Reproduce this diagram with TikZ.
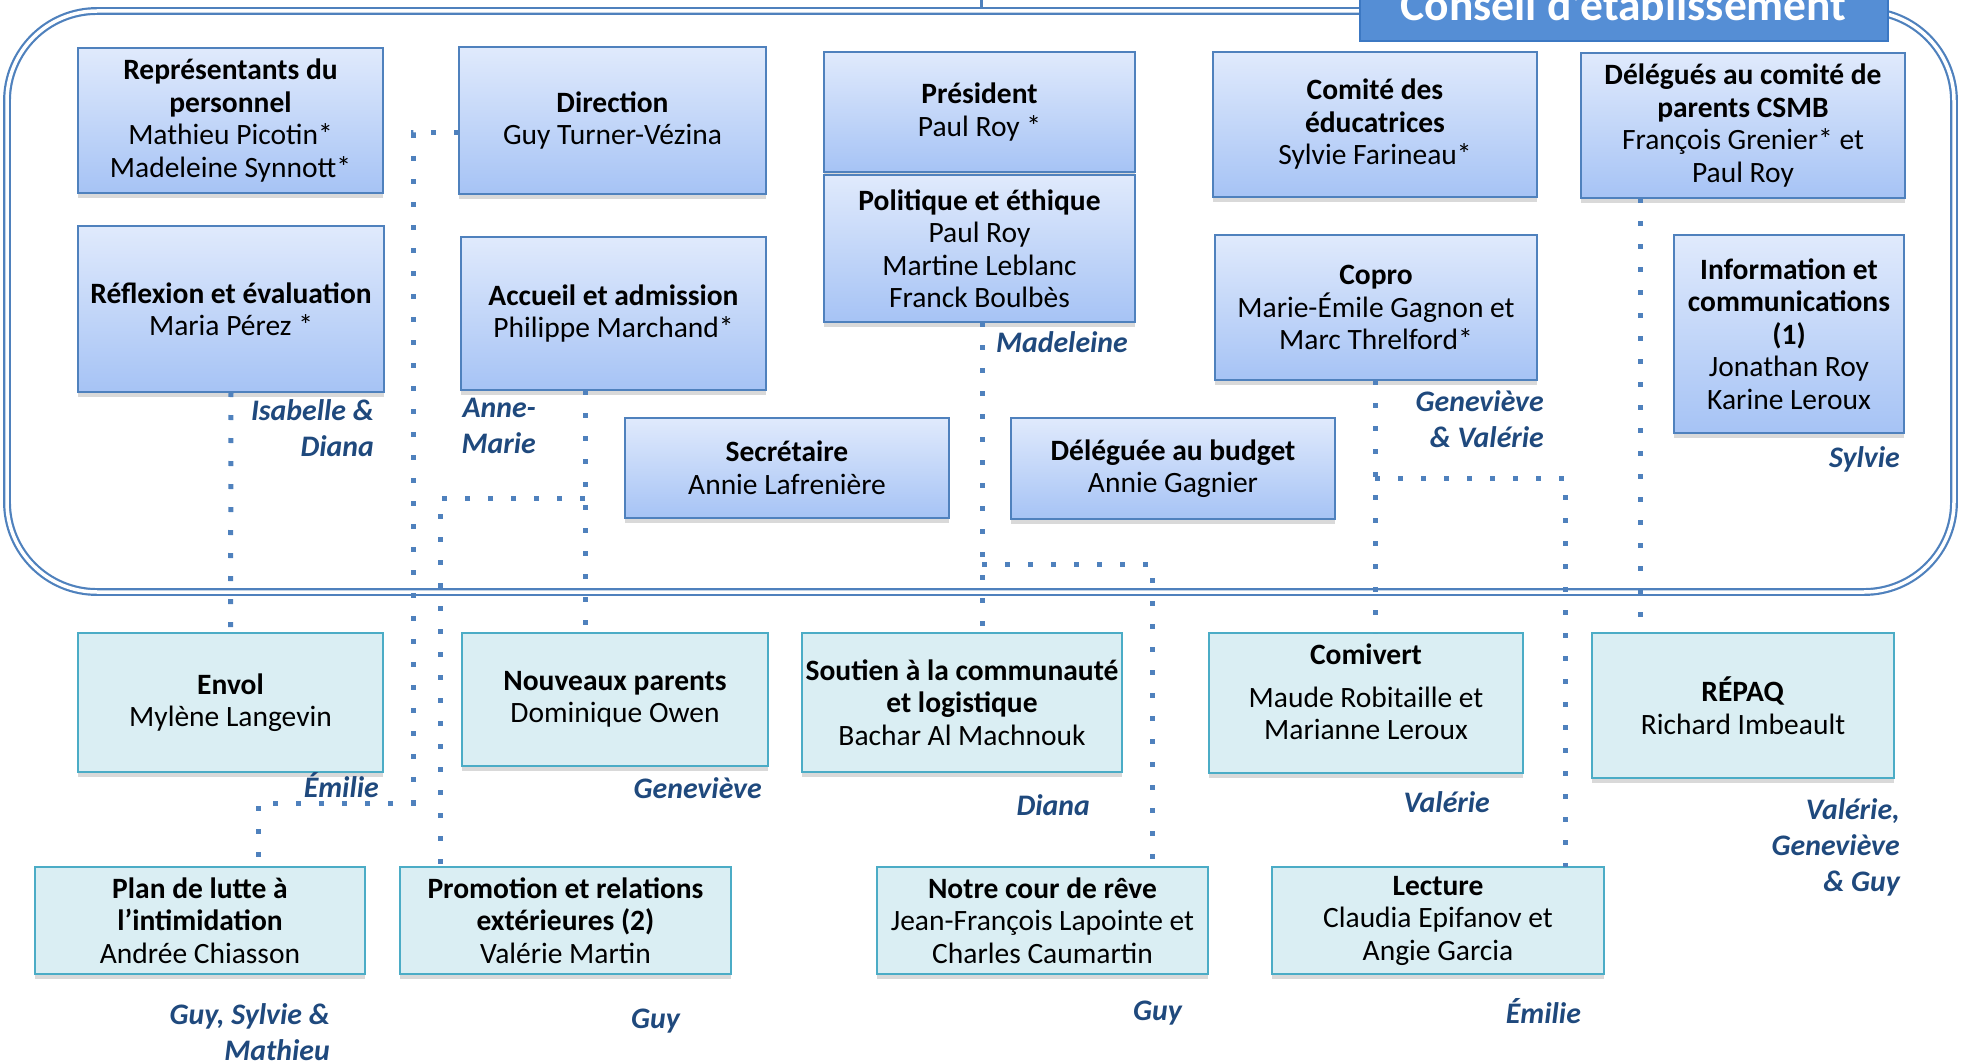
\documentclass[tikz,border=0pt]{standalone}
\usepackage{fontspec}
\setmainfont{Carlito}
\usetikzlibrary{shadows}
\definecolor{frameBlue}{HTML}{4F81BD}
\definecolor{boxTop}{HTML}{E0EAFC}
\definecolor{boxBottom}{HTML}{A6C3F5}
\definecolor{cyanFill}{HTML}{DAEEF3}
\definecolor{cyanBorder}{HTML}{4BACC6}
\definecolor{labelBlue}{HTML}{1F497D}
\definecolor{titleFill}{HTML}{558ED5}
\definecolor{titleBorder}{HTML}{3C78C3}
\newcommand{\cefont}{\fontsize{29.5}{32.5}\selectfont}
\newcommand{\rolefont}{\fontsize{29.8}{36}\selectfont\bfseries\itshape}
\begin{document}
\begin{tikzpicture}[x=1pt, y=-1pt,
  cebox/.style={draw=frameBlue, line width=2pt, top color=boxTop, bottom color=boxBottom, inner sep=0pt, outer sep=0pt, align=center, font=\cefont, drop shadow={shadow xshift=0pt, shadow yshift=-5pt, opacity=0.3}},
  comitebox/.style={draw=cyanBorder, line width=2pt, fill=cyanFill, inner sep=0pt, outer sep=0pt, align=center, font=\cefont, drop shadow={shadow xshift=0pt, shadow yshift=-5pt, opacity=0.3}},
  rolelabel/.style={text=labelBlue, font=\rolefont, align=right, anchor=base east, inner sep=0pt},
  linkline/.style={draw=frameBlue, line width=5pt, dash pattern=on 5pt off 18pt}]
\useasboundingbox (0,0) rectangle (1965,1062);
\clip (0,0) rectangle (1965,1062);

\coordinate (top) at (981,0);
\draw [frameBlue, line width=3pt] (top) -- (981,12);
\draw [frameBlue, line width=2.2pt, double, double distance=3.5pt, rounded corners=90] (7,11) rectangle (1954,592);

\node (title) [draw=titleBorder, line width=2pt, fill=titleFill, text=white, font=\fontsize{45.5}{50}\selectfont\bfseries, minimum width=528, minimum height=74, inner sep=0pt] at (1623.5,4) {Conseil d’établissement};

\node (rep) [cebox, minimum width=305, minimum height=145] at (230.5,120.5) {\textbf{Représentants du}\\\textbf{personnel}\\Mathieu Picotin*\\Madeleine Synnott*};
\node (dir) [cebox, minimum width=307, minimum height=147] at (612.5,120.5) {\textbf{Direction}\\Guy Turner-Vézina};
\node (refl) [cebox, minimum width=306, minimum height=166] at (231,309) {\textbf{Réflexion et évaluation}\\Maria Pérez *};
\node (accueil) [cebox, minimum width=305, minimum height=153] at (613.5,313.5) {\textbf{Accueil et admission}\\Philippe Marchand*};
\node (pres) [cebox, minimum width=311, minimum height=120] at (979.5,112) {\textbf{Président}\\Paul Roy *};
\node (polit) [cebox, minimum width=311, minimum height=147] at (979.5,248.5) {\textbf{Politique et éthique}\\Paul Roy\\Martine Leblanc\\Franck Boulbès};
\node (educ) [cebox, minimum width=324, minimum height=145] at (1375,124.5) {\textbf{Comité des}\\\textbf{éducatrices}\\Sylvie Farineau*};
\node (csmb) [cebox, minimum width=324, minimum height=145] at (1743,125.5) {\textbf{Délégués au comité de}\\\textbf{parents CSMB}\\François Grenier* et\\Paul Roy};
\node (copro) [cebox, minimum width=322, minimum height=145] at (1376,307.5) {\textbf{Copro}\\Marie-Émile Gagnon et\\Marc Threlford*};
\node (info) [cebox, minimum width=230, minimum height=198] at (1789,334) {\textbf{Information et}\\\textbf{communications}\\\textbf{(1)}\\Jonathan Roy\\Karine Leroux};
\node (secr) [cebox, minimum width=324, minimum height=100] at (787,468) {\textbf{Secrétaire}\\Annie Lafrenière};
\node (budget) [cebox, minimum width=324, minimum height=101] at (1173,468.5) {\textbf{Déléguée au budget}\\Annie Gagnier};

\node (envol) [comitebox, minimum width=305, minimum height=139] at (230.5,702.5) {\textbf{Envol}\\Mylène Langevin};
\node (parents) [comitebox, minimum width=306, minimum height=133] at (615,699.5) {\textbf{Nouveaux parents}\\Dominique Owen};
\node (soutien) [comitebox, minimum width=320, minimum height=139] at (962,702.5) {\textbf{Soutien à la communauté}\\\textbf{et logistique}\\Bachar Al Machnouk};
\node (comivert) [comitebox, minimum width=314, minimum height=140] at (1366,703) {\textbf{Comivert}\\[10pt]Maude Robitaille et\\Marianne Leroux\\[-10pt]};
\node (repaq) [comitebox, minimum width=302, minimum height=145] at (1743,705.5) {\textbf{RÉPAQ}\\Richard Imbeault};
\node (plan) [comitebox, minimum width=330, minimum height=107] at (200,920.5) {\textbf{Plan de lutte à}\\\textbf{l’intimidation}\\Andrée Chiasson};
\node (promo) [comitebox, minimum width=331, minimum height=107] at (565.5,920.5) {\textbf{Promotion et relations}\\\textbf{extérieures (2)}\\Valérie Martin};
\node (cour) [comitebox, minimum width=331, minimum height=107] at (1042.5,920.5) {\textbf{Notre cour de rêve}\\Jean-François Lapointe et\\Charles Caumartin};
\node (lecture) [comitebox, minimum width=332, minimum height=107] at (1438,920.5) {\textbf{Lecture}\\Claudia Epifanov et\\Angie Garcia};

\node (lrefl) [rolelabel] at (374,456) {Isabelle \&\\Diana};
\node (laccueil) [rolelabel] at (536,453) {Anne-\\Marie};
\node (lpolit) [rolelabel] at (1128,352) {Madeleine};
\node (lcopro) [rolelabel] at (1544,447) {Geneviève\\\& Valérie};
\node (linfo) [rolelabel] at (1900,467) {Sylvie};
\node (lenvol) [rolelabel] at (379,797) {Émilie};
\node (lparents) [rolelabel] at (762,798) {Geneviève};
\node (lsoutien) [rolelabel] at (1090,815) {Diana};
\node (lcomivert) [rolelabel] at (1490,812) {Valérie};
\node (lrepaq) [rolelabel] at (1900,891) {Valérie,\\Geneviève\\\& Guy};
\node (lplan) [rolelabel] at (330,1060) {Guy, Sylvie \&\\Mathieu};
\node (lpromo) [rolelabel] at (680,1028) {Guy};
\node (lcour) [rolelabel] at (1182,1020) {Guy};
\node (llecture) [rolelabel] at (1581,1023) {Émilie};

\coordinate (d1) at (413,133);
\coordinate (d2) at (413,803);
\coordinate (d3) at (258,803);
\coordinate (a1) at (585,498);
\coordinate (a2) at (440,498);
\coordinate (p1) at (982,564);
\coordinate (p2) at (1152,564);
\coordinate (c1) at (1375,478);
\coordinate (c2) at (1565,478);
\coordinate (h1) at (1640,300);

\draw [linkline] (refl.south) -- (envol.north);
\draw [linkline] (dir.west |- d1) -- (d1) -- (d2) -- (d3) -- (d3 |- plan.north);
\draw [linkline] (a1 |- accueil.south) -- (a1 |- parents.north);
\draw [linkline] (a1) -- (a2) -- (a2 |- promo.north);
\draw [linkline] (p1 |- polit.south) -- (p1 |- soutien.north);
\draw [linkline] (p1) -- (p2) -- (p2 |- cour.north);
\draw [linkline] (c1 |- copro.south) -- (c1 |- comivert.north);
\draw [linkline] (c1) -- (c2) -- (c2 |- lecture.north);
\draw [linkline] (h1 |- csmb.south) -- (h1 |- repaq.north);
\end{tikzpicture}
\end{document}
